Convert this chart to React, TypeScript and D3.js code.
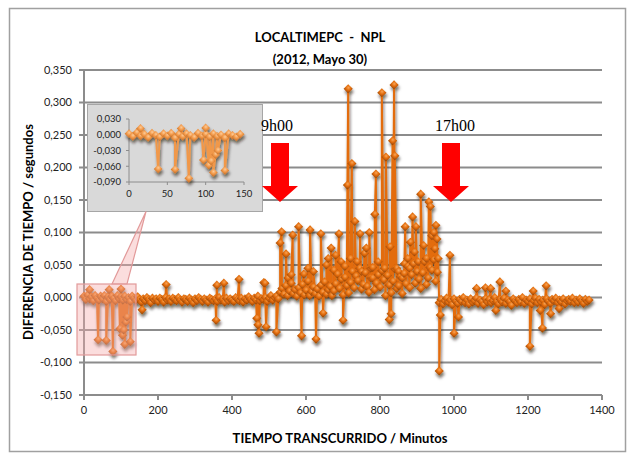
import React, { useRef, useEffect } from 'react';
import * as d3 from 'd3';

// baseline readings, one every 5 minutes, in milliseconds
const baseStep = 5;
const baseEarlyStart = 0;
const baseEarlyMs = [
  2, -3, 4, -2, 1, -5, 3, -1, -4, 2,
  -2, 3, -6, 1, -3, 2, -1, -5, 3, -2,
  1, -4, 2, -3, 0, -6, 2, -1, -4, 1,
  -3, -7, -2, -5, 0, -3, -8, -1, -4, -2,
  -6, -1, -3, -7, 0, -4, -2, -6, -1, -3,
  -5, 0, -4, -7, -2, -3, -6, -1, -4, -8,
  -2, -5, 0, -3, -6, -2, -4, -7, -1, -3,
  -5, -2, -6, 0, -4, -3, -7, -1, -5, -2,
  -4, -6, 0, -3, -5, -1, -7, -2, -4, 1,
  -3, -6, -1, -4, 2, -5, -2, -3, 0, -6,
  -1, 3, -4, 0, 2, -2,
];
const baseDayStart = 530;
const baseDayMs = [
  8, 14, 5, 18, 3, 10, 22, 6, 12, 2,
  15, 7, 20, 4, 11, 25, 3, 9, 16, 6,
  13, 2, 19, 8, 24, 5, 12, 17, 3, 10,
  21, 36, 14, 28, 4, 31, 18, 7, 23, 40,
  15, 33, 26, 45, 13, 20, 38, 17, 8, 30,
  46, 12, 22, 35, 16, 41, 27, 3, 34, 19,
  7, 25, 44, 14, 18, 32, 6, 37, 21, 48,
  15, 35, 52, 22, 40, 28, 14, 38, 55, 20,
  30, 46, 42, 58, 25, 39,
];
const baseLateStart = 960;
const baseLateMs = [
  -8, -3, -10, -5, -1, -7, -4, -11, -2, -6,
  -9, -3, -6, 0, -8, -4, -10, -2, -7, -5,
  -1, -9, -4, -6, -11, -2, -7, -3, -8, -5,
  0, -6, -10, -3, -7, -1, -9, -4, -6, -12,
  -2, -5, -8, -3, -7, 0, -9, -4, -6, -2,
  -10, -5, -1, -8, -3, -7, -4, -11, -2, -6,
  -9, -3, -5, -1, -8, -4, -7, -2, -10, -5,
  -3, -6, -1, -8, -4, -7, -2, -5, -9, -3,
  -6, -4,
];

// isolated excursions [minute, ms]
const spikes = [
  [15, 12], [38, -65], [60, -66], [68, 12], [78, -83], [97, -48], [100, 13],
  [104, -58], [107, -50], [110, -72], [113, -38], [116, -30], [125, -68],
  [157, -19], [222, 20], [357, -35], [359, 19], [378, 22], [419, 28],
  [467, -32], [470, -42], [473, -55], [486, 23], [489, 22], [492, -45], [520, -53],
  [530, 84], [534, 101], [546, 67], [551, 30], [560, 35], [564, 96], [580, 109],
  [588, -59], [594, 36], [605, 45], [611, 104], [620, 40], [627, -64], [640, 98],
  [646, -24], [655, 50], [660, 60], [668, 76], [675, 42], [680, 65], [689, 98],
  [695, 55], [700, -35], [705, 48], [712, 173], [714, 321], [720, 60], [724, 206],
  [732, 117], [738, 55], [746, 98], [750, 40], [758, 68], [763, 76], [771, 100],
  [775, 45], [780, 30], [786, 128], [789, 190], [795, 55], [805, 315], [812, 45],
  [816, 216], [825, -34], [827, 78], [830, -25], [834, 241], [838, 327], [840, 218],
  [845, 45], [850, 40], [860, 30], [866, 52], [868, 109], [875, 60], [880, 45],
  [882, 85], [888, 124], [893, 70], [897, 109], [903, 55], [910, 159], [918, 80],
  [925, 60], [932, 147], [936, 140], [940, 95], [945, 100], [948, 75], [951, 111],
  [954, 90], [957, 60], [960, -113], [963, -27], [989, 65], [1000, -55], [1012, -30],
  [1061, 14], [1085, 15], [1099, 14], [1113, -20], [1124, 24], [1140, 10],
  [1205, -75], [1214, 10], [1233, -20], [1239, -47], [1249, 18], [1261, -25], [1284, -17],
];

const xTicks = [0, 200, 400, 600, 800, 1000, 1200, 1400];
const yTicks = [-0.15, -0.1, -0.05, 0, 0.05, 0.1, 0.15, 0.2, 0.25, 0.3, 0.35];
const insetXTicks = [0, 50, 100, 150];
const insetYTicks = [0.03, 0, -0.03, -0.06, -0.09];

const fmt = d3.formatLocale({ decimal: ',', thousands: '.', grouping: [3], currency: ['', ''], minus: '-' }).format('.3f');
const font = 'Lato, "Open Sans", sans-serif';

function App() {
  const svgRef = useRef<SVGSVGElement>(null);

  useEffect(() => {
    const svg = d3.select(svgRef.current);
    svg.selectAll('*').remove();

    const data = [
      ...baseEarlyMs.map((v, i) => ({ t: baseEarlyStart + i * baseStep, v: v / 1000 })),
      ...baseDayMs.map((v, i) => ({ t: baseDayStart + i * baseStep, v: v / 1000 })),
      ...baseLateMs.map((v, i) => ({ t: baseLateStart + i * baseStep, v: v / 1000 })),
      ...spikes.map(([t, v]) => ({ t, v: v / 1000 })),
    ].sort((a, b) => a.t - b.t);

    const defs = svg.append('defs');
    defs.append('filter').attr('id', 'shadow').attr('x', '-5%').attr('y', '-5%').attr('width', '110%').attr('height', '130%')
      .append('feDropShadow').attr('dx', 1).attr('dy', 3).attr('stdDeviation', 1.8)
      .attr('flood-color', '#1a0d00').attr('flood-opacity', 0.6);
    const grad = (id, stops) => {
      const g = defs.append('radialGradient').attr('id', id).attr('cx', '40%').attr('cy', '35%').attr('r', '70%');
      stops.forEach(([o, c]) => g.append('stop').attr('offset', o).attr('stop-color', c));
    };
    grad('mk', [['0%', '#f8a458'], ['55%', '#e36c0a'], ['100%', '#a64e06']]);
    grad('mkInset', [['0%', '#fccb98'], ['55%', '#f39b4c'], ['100%', '#d27a30']]);

    svg.append('rect').attr('width', 631).attr('height', 455).attr('fill', '#fff');
    svg.append('rect').attr('x', 9.5).attr('y', 8.5).attr('width', 616).attr('height', 443)
      .attr('fill', 'none').attr('stroke', '#a0a0a0').attr('stroke-width', 1.5);

    const x = d3.scaleLinear().domain([0, 1400]).range([84, 602]);
    const y = d3.scaleLinear().domain([-0.15, 0.35]).range([395, 70]);

    // Gridlines
    svg.append('g').selectAll('line').data(yTicks).enter().append('line')
      .attr('x1', x(0) - 5).attr('x2', x(1400))
      .attr('y1', d => y(d)).attr('y2', d => y(d))
      .attr('stroke', '#8c8c8c').attr('stroke-width', 2);
    svg.append('line').attr('x1', x(0)).attr('x2', x(0)).attr('y1', y(0.35)).attr('y2', y(-0.15))
      .attr('stroke', '#8c8c8c').attr('stroke-width', 2);
    svg.append('g').selectAll('line').data(xTicks).enter().append('line')
      .attr('x1', d => x(d)).attr('x2', d => x(d)).attr('y1', y(-0.15)).attr('y2', y(-0.15) + 5)
      .attr('stroke', '#8c8c8c').attr('stroke-width', 2);

    svg.append('g').selectAll('text').data(yTicks).enter().append('text')
      .attr('x', 72).attr('y', d => y(d)).attr('dy', '0.35em').attr('text-anchor', 'end')
      .attr('font-family', font).attr('font-size', 11).attr('fill', '#222').text(d => fmt(d));
    svg.append('g').selectAll('text').data(xTicks).enter().append('text')
      .attr('x', d => x(d)).attr('y', 414).attr('text-anchor', 'middle')
      .attr('font-family', font).attr('font-size', 11).attr('fill', '#222').text(d => d);

    const diamond = d3.symbol().type(d3.symbolSquare);

    // Main series
    const line = d3.line().x(d => x(d.t)).y(d => y(d.v));
    const series = svg.append('g').attr('filter', 'url(#shadow)');
    series.append('path').attr('d', line(data)).attr('fill', 'none')
      .attr('stroke', '#e36c0a').attr('stroke-width', 2).attr('stroke-linejoin', 'round');
    series.selectAll('path.mk').data(data).enter().append('path').attr('class', 'mk')
      .attr('d', diamond.size(42)())
      .attr('transform', d => `translate(${x(d.t)},${y(d.v)}) rotate(45)`)
      .attr('fill', 'url(#mk)');

    // Inset zoom of the first 150 minutes
    svg.append('rect').attr('x', 87.5).attr('y', 104.5).attr('width', 175).attr('height', 107)
      .attr('fill', '#d9d9d9').attr('stroke', '#a6a6a6');
    const ix = d3.scaleLinear().domain([0, 150]).range([129, 244]);
    const iy = d3.scaleLinear().domain([-0.09, 0.03]).range([182, 119]);
    svg.append('line').attr('x1', ix(0)).attr('x2', ix(0)).attr('y1', iy(0.03)).attr('y2', iy(-0.09)).attr('stroke', '#8c8c8c');
    svg.append('line').attr('x1', ix(0)).attr('x2', ix(150)).attr('y1', iy(-0.09)).attr('y2', iy(-0.09)).attr('stroke', '#8c8c8c');
    svg.append('g').selectAll('line').data(insetYTicks).enter().append('line')
      .attr('x1', ix(0) - 3).attr('x2', ix(0)).attr('y1', d => iy(d)).attr('y2', d => iy(d)).attr('stroke', '#8c8c8c');
    svg.append('g').selectAll('line').data(insetXTicks).enter().append('line')
      .attr('x1', d => ix(d)).attr('x2', d => ix(d)).attr('y1', iy(-0.09)).attr('y2', iy(-0.09) + 3).attr('stroke', '#8c8c8c');
    svg.append('g').selectAll('text').data(insetYTicks).enter().append('text')
      .attr('x', 121).attr('y', d => iy(d)).attr('dy', '0.35em').attr('text-anchor', 'end')
      .attr('font-family', font).attr('font-size', 9.5).attr('fill', '#222').text(d => fmt(d));
    svg.append('g').selectAll('text').data(insetXTicks).enter().append('text')
      .attr('x', d => ix(d)).attr('y', 197).attr('text-anchor', 'middle')
      .attr('font-family', font).attr('font-size', 9.5).attr('fill', '#222').text(d => d);

    const insetData = data.filter(d => d.t <= 145);
    const iline = d3.line().x(d => ix(d.t)).y(d => iy(d.v));
    const iseries = svg.append('g').attr('filter', 'url(#shadow)');
    iseries.append('path').attr('d', iline(insetData)).attr('fill', 'none')
      .attr('stroke', '#f1984a').attr('stroke-width', 2);
    iseries.selectAll('path.mk').data(insetData).enter().append('path').attr('class', 'mk')
      .attr('d', diamond.size(38)())
      .attr('transform', d => `translate(${ix(d.t)},${iy(d.v)}) rotate(45)`)
      .attr('fill', 'url(#mkInset)');

    // Callout highlighting the zoomed region
    const callout = svg.append('g').attr('fill', 'rgba(244,170,170,0.4)').attr('stroke', '#e29a9a').attr('stroke-width', 1.2);
    callout.append('polygon').attr('points', '112,284 146,211.5 127,284');
    callout.append('rect').attr('x', 77).attr('y', 284).attr('width', 59).attr('height', 71);

    // Red arrows marking working hours
    const arrow = (cx) => `${cx - 9},143 ${cx + 9},143 ${cx + 9},186 ${cx + 18},186 ${cx},202 ${cx - 18},186 ${cx - 9},186`;
    svg.append('polygon').attr('points', arrow(280)).attr('fill', '#ff0000');
    svg.append('polygon').attr('points', arrow(451)).attr('fill', '#ff0000');
    svg.append('text').attr('x', 261).attr('y', 131).attr('font-family', '"Liberation Serif", serif').attr('font-size', 16).text('9h00');
    svg.append('text').attr('x', 435).attr('y', 131).attr('font-family', '"Liberation Serif", serif').attr('font-size', 16).text('17h00');

    // Titles
    svg.append('text').attr('x', 320).attr('y', 42).attr('text-anchor', 'middle').attr('font-family', font)
      .attr('font-weight', 'bold').attr('font-size', 13).attr('xml:space', 'preserve').text('LOCALTIMEPC  -  NPL');
    svg.append('text').attr('x', 320).attr('y', 64).attr('text-anchor', 'middle').attr('font-family', font)
      .attr('font-weight', 'bold').attr('font-size', 13).text('(2012, Mayo 30)');
    svg.append('text').attr('x', 340).attr('y', 443).attr('text-anchor', 'middle').attr('font-family', font)
      .attr('font-weight', 'bold').attr('font-size', 13).text('TIEMPO TRANSCURRIDO / Minutos');
    svg.append('text').attr('transform', 'translate(33,232) rotate(-90)').attr('text-anchor', 'middle').attr('font-family', font)
      .attr('font-weight', 'bold').attr('font-size', 13).text('DIFERENCIA DE TIEMPO / segundos');
  }, []);

  return <svg ref={svgRef} width={631} height={455} style={{ position: 'absolute', left: 0, top: 0 }}></svg>;
}

export default App;
